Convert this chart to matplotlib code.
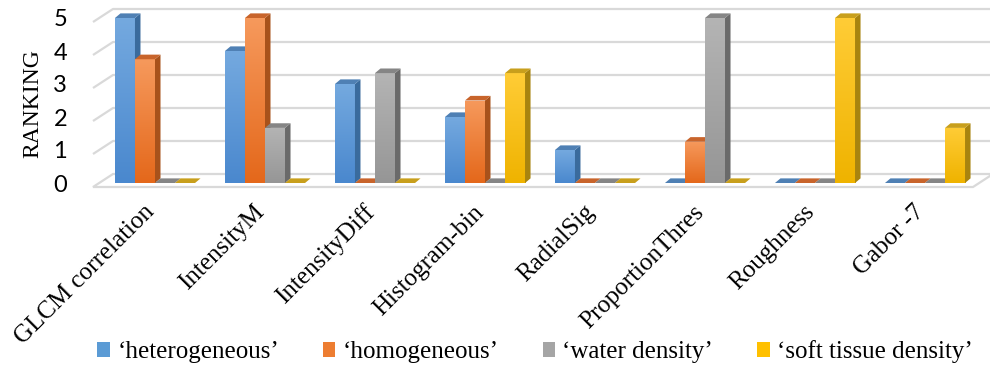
import numpy as np
import matplotlib
matplotlib.use("Agg")
import matplotlib.pyplot as plt
import matplotlib.transforms as mtrans
from matplotlib.patches import Polygon, Patch
from matplotlib.colors import LinearSegmentedColormap

CATEGORIES = ["GLCM correlation", "IntensityM", "IntensityDiff", "Histogram-bin",
              "RadialSig", "ProportionThres", "Roughness", "Gabor -7"]
SERIES_NAMES = ["\u2018heterogeneous\u2019", "\u2018homogeneous\u2019",
                "\u2018water density\u2019", "\u2018soft tissue density\u2019"]
heterogeneous = [5, 4, 3, 2, 1, 0, 0, 0]
homogeneous = [3.75, 5, 0, 2.5, 0, 1.25, 0, 0]
water_density = [0, 1.67, 3.33, 0, 0, 5, 0, 0]
soft_tissue = [0, 0, 0, 3.33, 0, 0, 5, 1.67]
SERIES = [heterogeneous, homogeneous, water_density, soft_tissue]
YTICKS = [0, 1, 2, 3, 4, 5]

# (front top, front bottom, side, top face, legend)
PALETTES = [
    ("#74a9df", "#4a88ce", "#3a6b9d", "#4f80b4", "#5b9bd5"),
    ("#f6995c", "#e4681b", "#a8521b", "#c8642b", "#ed7d31"),
    ("#b4b4b4", "#969696", "#6a6a6a", "#858585", "#a5a5a5"),
    ("#ffcc36", "#efb300", "#a8840f", "#c89f1c", "#ffc000"),
]

BAR_W = 0.182      # category units
DX, DY = 0.05, 0.14  # fake depth of the bars
GRID_C = "#d9d9d9"

fig = plt.figure(figsize=(9.9, 3.67), dpi=100)
W, H = 990, 367
# axes placed in pixels: x 70..990, y 5..192 (from top)
ax = fig.add_axes([70 / W, (H - 192) / H, 920 / W, 187 / H])
for s in ax.spines.values():
    s.set_visible(False)

# floor + back wall gridlines (3D look)
fl, bl = (93 - 155) / 110, (113 - 155) / 110
br, fr = (993 - 155) / 110, (973 - 155) / 110
yf, yb = -4 / 33, 9 / 33
ax.add_patch(Polygon([(fl, yf), (bl, yb), (br, yb), (fr, yf)], closed=True,
                     facecolor="white", edgecolor=GRID_C, lw=1.6, zorder=1))
for v in YTICKS[1:]:
    ax.plot([fl, bl, br], [v + yf, v + yb, v + yb], color=GRID_C, lw=1.6,
            zorder=1, solid_capstyle="butt")

cmaps = [LinearSegmentedColormap.from_list("g%d" % k, [p[1], p[0]])
         for k, p in enumerate(PALETTES)]
grad = np.linspace(0, 1, 64).reshape(-1, 1)

z = 3
for i in range(len(CATEGORIES)):
    for k, vals in enumerate(SERIES):
        v = vals[i]
        pal = PALETTES[k]
        x0 = i + (k - 2) * BAR_W
        x1 = x0 + BAR_W
        if v == 0:
            # empty value -> flat slab on the floor
            ax.add_patch(Polygon([(x0, 0), (x1, 0), (x1 + DX, DY), (x0 + DX, DY)],
                                 closed=True, facecolor=pal[3], edgecolor="none",
                                 zorder=z))
            z += 1
            continue
        rect = ax.bar(x0, v, width=BAR_W, align="edge", color=pal[4],
                      edgecolor="none", zorder=z)[0]
        im = ax.imshow(grad, cmap=cmaps[k], origin="lower", aspect="auto",
                       extent=[x0, x1, 0, v], zorder=z + 0.1)
        im.set_clip_path(rect)
        ax.add_patch(Polygon([(x1, 0), (x1 + DX, DY), (x1 + DX, v + DY), (x1, v)],
                             closed=True, facecolor=pal[2], edgecolor="none",
                             zorder=z + 0.2))
        ax.add_patch(Polygon([(x0, v), (x1, v), (x1 + DX, v + DY), (x0 + DX, v + DY)],
                             closed=True, facecolor=pal[3], edgecolor="none",
                             zorder=z + 0.2))
        z += 1

ax.set_xlim((70 - 155) / 110, (990 - 155) / 110)
ax.set_ylim((183 - 192) / 33, (183 - 5) / 33)

ax.set_yticks(YTICKS)
ax.set_yticklabels([str(t) for t in YTICKS], family="Lato", fontsize=17)
ax.tick_params(axis="y", length=0, pad=2)
ax.set_xticks(range(len(CATEGORIES)))
ax.set_xticklabels(CATEGORIES, family="Liberation Serif", fontsize=18,
                   rotation=45, ha="right", va="center", rotation_mode="anchor")
ax.tick_params(axis="x", length=0, pad=12)
shift = mtrans.ScaledTranslation(-4 / 100, 0, fig.dpi_scale_trans)
for lab in ax.get_xticklabels():
    lab.set_transform(lab.get_transform() + shift)

fig.text(33 / W, 1 - 104 / H, "RANKING", rotation=90, ha="center", va="center",
         family="Liberation Serif", fontsize=17)

handles = [Patch(facecolor=p[4], edgecolor="none") for p in PALETTES]
fig.legend(handles, SERIES_NAMES, loc="center", bbox_to_anchor=(535 / W, 1 - 352 / H),
           ncol=4, frameon=False, prop={"family": "Liberation Serif", "size": 18},
           handlelength=0.5, handleheight=0.5, handletextpad=0.3, columnspacing=1.75,
           borderpad=0)

fig.savefig("out.png", dpi=100, facecolor="white")
